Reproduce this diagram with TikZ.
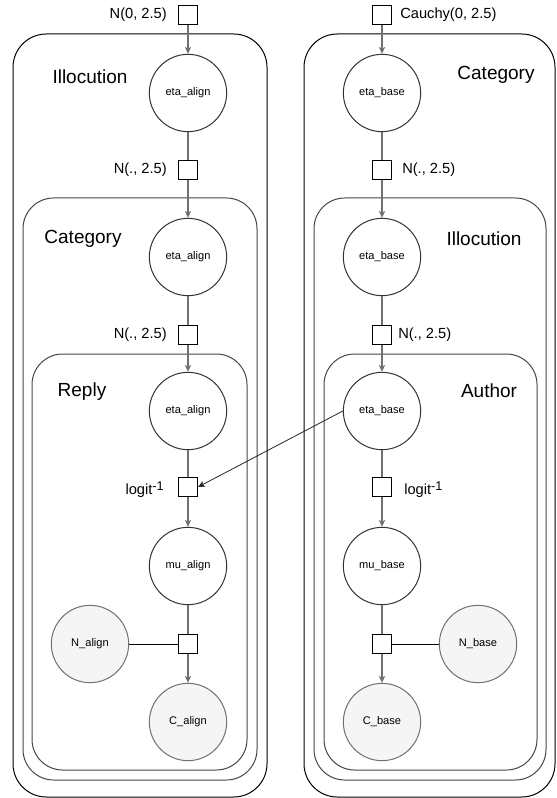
\documentclass[tikz,border=0pt]{standalone}
\usepackage{fontspec}
\setmainfont{Liberation Sans}
\usetikzlibrary{arrows.meta}

\definecolor{greyd}{RGB}{112,112,112}
\definecolor{plated}{RGB}{70,70,70}
\definecolor{obsd}{RGB}{245,245,245}

\newcommand{\invlogit}{logit\raisebox{0.5ex}{\fontsize{9.5}{10}\selectfont -1}}

\tikzset{
  latent/.style = {circle, draw = black!80, fill = white, line width = 0.75pt, minimum size = 58pt, inner sep = 0pt, font = \fontsize{8.3}{10}\selectfont},
  obs/.style = {latent, draw = greyd, fill = obsd},
  factor/.style = {rectangle, draw = black, fill = white, line width = 0.75pt, minimum size = 14.25pt, inner sep = 0pt},
  distlab/.style = {font = \fontsize{11}{13}\selectfont, inner sep = 0pt},
  platelab/.style = {font = \fontsize{14.25}{16}\selectfont, inner sep = 0pt},
  plate/.style = {draw = plated, line width = 0.75pt, rounded corners = 23pt},
  outerplate/.style = {draw = black, line width = 0.75pt, rounded corners = 25pt},
  edge/.style = {draw = greyd, line width = 0.9pt},
  arr/.style = {edge, -{Stealth[length = 5pt, width = 4.5pt, inset = 1pt]}},
}

\begin{document}
\begin{tikzpicture}[x = 0.75pt, y = -0.75pt]
                    \useasboundingbox (0,0) rectangle (556,798);
                    % plates
                    \draw[outerplate] (13,34) rectangle (267,797);
                    \draw[plate] (23,198) rectangle (257,780);
                    \draw[plate] (32,354) rectangle (247,770);
                    \draw[outerplate] (304,34) rectangle (555,797);
                    \draw[plate] (314,198) rectangle (546,780);
                    \draw[plate] (324,354) rectangle (537,770);
                    \node[platelab] (plIllA) at (90,77) {Illocution};
                    \node[platelab] (plCatA) at (83,239) {Category};
                    \node[platelab] (plRep) at (82,392) {Reply};
                    \node[platelab] (plCatB) at (496,75) {Category};
                    \node[platelab] (plIllB) at (484,239) {Illocution};
                    \node[platelab] (plAut) at (489,391) {Author};
                    % align column
                    \node[factor] (fA0) at (188,15) {};
                    \node[latent] (eaA) at (188,93) {eta\_align};
                    \node[factor] (fA1) at (188,170) {};
                    \node[latent] (eaB) at (188,257) {eta\_align};
                    \node[factor] (fA2) at (188,335) {};
                    \node[latent] (eaC) at (188,411) {eta\_align};
                    \node[factor] (fA3) at (188,487) {};
                    \node[latent] (muA) at (188,566) {mu\_align};
                    \node[factor] (fA4) at (188,644) {};
                    \node[obs] (nA) at (90,644) {N\_align};
                    \node[obs] (cA) at (188,722) {C\_align};
                    \node[distlab, anchor = east] (lA0) at (167,15) {N(0, 2.5)};
                    \node[distlab, anchor = east] (lA1) at (167,170) {N(., 2.5)};
                    \node[distlab, anchor = east] (lA2) at (167,335) {N(., 2.5)};
                    \node[distlab, anchor = east] (lA3) at (164,490) {\invlogit};
                    % base column
                    \node[factor] (fB0) at (382,15) {};
                    \node[latent] (ebA) at (382,93) {eta\_base};
                    \node[factor] (fB1) at (382,170) {};
                    \node[latent] (ebB) at (382,257) {eta\_base};
                    \node[factor] (fB2) at (382,335) {};
                    \node[latent] (ebC) at (382,411) {eta\_base};
                    \node[factor] (fB3) at (382,487) {};
                    \node[latent] (muB) at (382,566) {mu\_base};
                    \node[factor] (fB4) at (382,644) {};
                    \node[obs] (nB) at (478,644) {N\_base};
                    \node[obs] (cB) at (382,722) {C\_base};
                    \node[distlab, anchor = west] (lB0) at (400,15) {Cauchy(0, 2.5)};
                    \node[distlab, anchor = west] (lB1) at (402,170) {N(., 2.5)};
                    \node[distlab, anchor = west] (lB2) at (398,335) {N(., 2.5)};
                    \node[distlab, anchor = west] (lB3) at (404,490) {\invlogit};
                    % edges
                    \draw[arr] (fA0) -- (eaA);
                    \draw[edge] (eaA) -- (fA1);
                    \draw[arr] (fA1) -- (eaB);
                    \draw[edge] (eaB) -- (fA2);
                    \draw[arr] (fA2) -- (eaC);
                    \draw[edge] (eaC) -- (fA3);
                    \draw[arr] (fA3) -- (muA);
                    \draw[edge] (muA) -- (fA4);
                    \draw[arr] (fA4) -- (cA);
                    \draw[line width = 0.75pt] (nA) -- (fA4);
                    \draw[arr] (fB0) -- (ebA);
                    \draw[edge] (ebA) -- (fB1);
                    \draw[arr] (fB1) -- (ebB);
                    \draw[edge] (ebB) -- (fB2);
                    \draw[arr] (fB2) -- (ebC);
                    \draw[edge] (ebC) -- (fB3);
                    \draw[arr] (fB3) -- (muB);
                    \draw[edge] (muB) -- (fB4);
                    \draw[arr] (fB4) -- (cB);
                    \draw[line width = 0.75pt] (nB) -- (fB4);
                    \draw[arr, draw = black!85, line width = 0.6pt] (ebC.west) -- (fA3.east);
\end{tikzpicture}
\end{document}
